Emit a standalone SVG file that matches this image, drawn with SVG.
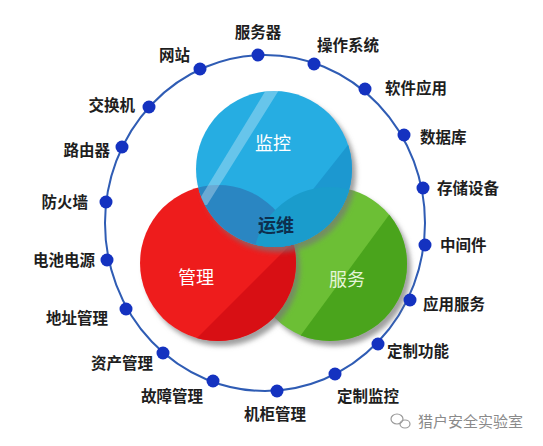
<svg xmlns="http://www.w3.org/2000/svg" width="543" height="446" viewBox="0 0 543 446">
<style>
.lbl{font-family:"Noto Sans CJK SC","Noto Sans",sans-serif;font-size:15.5px;font-weight:bold;fill:#1e1e1e}
.l{text-anchor:end}.m{text-anchor:middle}.r{text-anchor:start}
.dot{fill:#1432c0}
.big{font-family:"Noto Sans CJK SC","Noto Sans",sans-serif;font-size:18px;text-anchor:middle}
</style>
<defs>
<filter id="sh" x="-20%" y="-20%" width="150%" height="150%">
<feGaussianBlur in="SourceAlpha" stdDeviation="2.5"/>
<feOffset dx="4" dy="5" result="b"/>
<feFlood flood-color="#777" flood-opacity="0.7"/>
<feComposite in2="b" operator="in"/>
<feMerge><feMergeNode/><feMergeNode in="SourceGraphic"/></feMerge>
</filter>
<clipPath id="cb"><circle cx="274" cy="169" r="78"/></clipPath>
<clipPath id="cr"><circle cx="218" cy="263" r="78"/></clipPath>
<clipPath id="cg"><circle cx="330" cy="264" r="77"/></clipPath>
</defs>
<rect width="543" height="446" fill="#fff"/>
<g id="connectors">
<ellipse cx="265" cy="223" rx="160" ry="168" fill="none" stroke="#2f5cb4" stroke-width="2"/>
</g>
<g id="venn">
<g id="green">
<circle cx="330" cy="264" r="77" fill="#6cbf36" filter="url(#sh)"/>
<polygon clip-path="url(#cg)" points="400,200 420,200 420,350 290,350" fill="#4aa41c"/>
</g>
<g id="red">
<circle cx="218" cy="263" r="78" fill="#ee1c1f" filter="url(#sh)"/>
<polygon clip-path="url(#cr)" points="300,235 310,235 310,350 185,350" fill="#d80f14"/>
</g>
<g id="blue">
<circle cx="274" cy="169" r="78" fill="#28ade2" filter="url(#sh)"/>
<g clip-path="url(#cb)">
<polygon points="352,140 360,140 360,250 265,250" fill="#1c98d0"/>
<circle cx="218" cy="263" r="78" fill="#2a86c2"/>
<circle cx="330" cy="264" r="77" fill="#1a9ccc"/>
<polygon points="266,90 279,90 207,205 196,205" fill="#ffffff" opacity="0.3"/>
</g>
</g>
<text class="big" x="273" y="150" fill="#ffffff">监控</text>
<text class="big" x="196" y="284" fill="#ffffff">管理</text>
<text class="big" x="347" y="286" fill="#e4f5d8">服务</text>
<text class="big" x="276" y="232" fill="#0d2f4f" font-weight="bold">运维</text>
</g>
<g id="n1"><circle class="dot" cx="258" cy="55" r="6.5"/><text class="lbl m" x="258" y="38">服务器</text></g>
<g id="n2"><circle class="dot" cx="314" cy="64" r="6.5"/><text class="lbl r" x="317" y="51">操作系统</text></g>
<g id="n3"><circle class="dot" cx="365" cy="89" r="6.5"/><text class="lbl r" x="385" y="94">软件应用</text></g>
<g id="n4"><circle class="dot" cx="404" cy="135" r="6.5"/><text class="lbl r" x="420" y="143">数据库</text></g>
<g id="n5"><circle class="dot" cx="423" cy="188" r="6.5"/><text class="lbl r" x="437" y="194">存储设备</text></g>
<g id="n6"><circle class="dot" cx="425" cy="245" r="6.5"/><text class="lbl r" x="440" y="251">中间件</text></g>
<g id="n7"><circle class="dot" cx="410" cy="300" r="6.5"/><text class="lbl r" x="423" y="310">应用服务</text></g>
<g id="n8"><circle class="dot" cx="378" cy="344" r="6.5"/><text class="lbl r" x="387" y="357">定制功能</text></g>
<g id="n9"><circle class="dot" cx="335" cy="374" r="6.5"/><text class="lbl r" x="337" y="402">定制监控</text></g>
<g id="n10"><circle class="dot" cx="277" cy="391" r="6.5"/><text class="lbl m" x="275" y="420">机柜管理</text></g>
<g id="n11"><circle class="dot" cx="213" cy="381" r="6.5"/><text class="lbl l" x="203" y="402">故障管理</text></g>
<g id="n12"><circle class="dot" cx="163" cy="353" r="6.5"/><text class="lbl l" x="153" y="369">资产管理</text></g>
<g id="n13"><circle class="dot" cx="126" cy="309" r="6.5"/><text class="lbl l" x="108" y="324">地址管理</text></g>
<g id="n14"><circle class="dot" cx="107" cy="260" r="6.5"/><text class="lbl l" x="95" y="266">电池电源</text></g>
<g id="n15"><circle class="dot" cx="106" cy="202" r="6.5"/><text class="lbl l" x="88" y="208">防火墙</text></g>
<g id="n16"><circle class="dot" cx="122" cy="147" r="6.5"/><text class="lbl l" x="110" y="156">路由器</text></g>
<g id="n17"><circle class="dot" cx="149" cy="107" r="6.5"/><text class="lbl l" x="135" y="111">交换机</text></g>
<g id="n18"><circle class="dot" cx="200" cy="69" r="6.5"/><text class="lbl l" x="190" y="61">网站</text></g>
<g id="watermark">
<ellipse cx="397" cy="419" rx="6" ry="5" fill="none" stroke="#9a9a9a" stroke-width="1.2"/>
<ellipse cx="405" cy="424" rx="5" ry="4" fill="none" stroke="#9a9a9a" stroke-width="1.2"/>
<text x="418" y="427" font-family="Noto Sans CJK SC,sans-serif" font-size="15" fill="#8a8a8a">猎户安全实验室</text>
</g>
</svg>
